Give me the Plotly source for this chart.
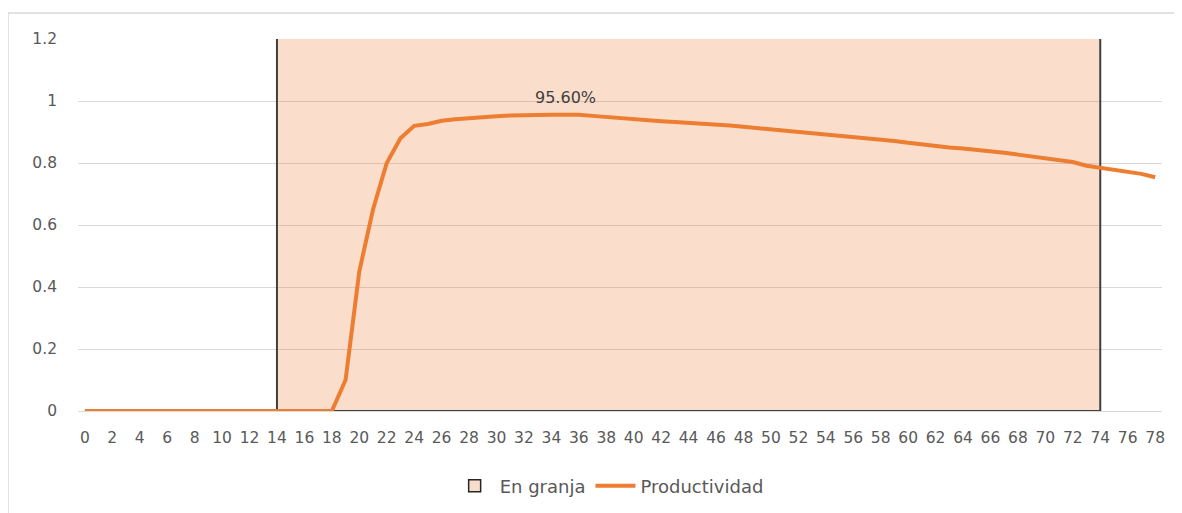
import plotly.graph_objects as go

# ---- data ----
semanas = list(range(0, 79))
productividad = [
    0, 0, 0, 0, 0, 0, 0, 0, 0, 0,
    0, 0, 0, 0, 0, 0, 0, 0, 0, 0.10,
    0.45, 0.65, 0.80, 0.88, 0.92, 0.926, 0.936, 0.941, 0.945, 0.948,
    0.951, 0.953, 0.955, 0.956, 0.956, 0.956, 0.956, 0.952, 0.948, 0.945,
    0.941, 0.937, 0.935, 0.932, 0.930, 0.927, 0.925, 0.921, 0.917, 0.913,
    0.909, 0.905, 0.901, 0.898, 0.894, 0.889, 0.885, 0.881, 0.876, 0.871,
    0.865, 0.859, 0.853, 0.850, 0.847, 0.843, 0.838, 0.833, 0.827, 0.821,
    0.815, 0.809, 0.803, 0.791, 0.785, 0.779, 0.773, 0.765, 0.754,
]
granja_inicio = 14
granja_fin = 74
granja_alto = 1.2
pico_semana = 35
pico_valor = 0.956
pico_texto = "95.60%"
x_ticks = list(range(0, 79, 2))
y_ticks = [0, 0.2, 0.4, 0.6, 0.8, 1, 1.2]
y_tick_labels = ["0", "0.2", "0.4", "0.6", "0.8", "1", "1.2"]

FONT = "DejaVu Sans"
TXT = "#595959"

fig = go.Figure()

# shaded "En granja" region (left, bottom, right edges stroked)
fig.add_trace(go.Scatter(
    x=[granja_inicio, granja_inicio, granja_fin, granja_fin],
    y=[granja_alto, 0, 0, granja_alto],
    mode="lines",
    fill="toself",
    fillcolor="rgba(237,125,49,0.25)",
    line=dict(color="#404040", width=2),
    name="En granja",
    showlegend=False,
    hoverinfo="skip",
))

# legend entry for the shaded region (box with dark border)
fig.add_trace(go.Bar(
    x=[None], y=[None],
    name="En granja",
    marker=dict(color="#F9DCCB", line=dict(color="#262626", width=1.5)),
    showlegend=True,
))

fig.add_trace(go.Scatter(
    x=semanas,
    y=productividad,
    mode="lines",
    line=dict(color="#ED7D31", width=4),
    name="Productividad",
))

fig.add_annotation(
    x=pico_semana, y=pico_valor, text=pico_texto,
    showarrow=False, yanchor="bottom", yshift=6,
    font=dict(family=FONT, size=16, color="#404040"),
)

# chart frame: only left and top edges are visible in the reference
fig.add_shape(
    type="line", xref="paper", yref="paper",
    x0=-0.0646, x1=-0.0646, y0=-0.4, y1=1.0699,
    line=dict(color="#D9D9D9", width=1.5), layer="below",
)
fig.add_shape(
    type="line", xref="paper", yref="paper",
    x0=-0.0646, x1=1.1, y0=1.0699, y1=1.0699,
    line=dict(color="#D9D9D9", width=1.5), layer="below",
)

fig.update_layout(
    width=1182, height=513,
    margin=dict(l=70, r=28, t=31, b=110),
    paper_bgcolor="white",
    plot_bgcolor="white",
    font=dict(family=FONT, size=15, color=TXT),
    showlegend=True,
    legend=dict(
        orientation="h", x=0.49, xanchor="center", y=-0.2016, yanchor="middle",
        font=dict(family=FONT, size=18, color=TXT),
        traceorder="normal", itemwidth=40,
    ),
    xaxis=dict(
        range=[-0.5, 78.5],
        tickmode="array", tickvals=x_ticks, ticktext=[str(t) for t in x_ticks],
        tickangle=0,
        showgrid=False, zeroline=False,
        showline=True, linecolor="#D9D9D9", linewidth=1,
        ticks="", tickfont=dict(family=FONT, size=15.5, color=TXT),
        ticklabelstandoff=12,
    ),
    yaxis=dict(
        range=[0, 1.2],
        tickmode="array", tickvals=y_ticks, ticktext=y_tick_labels,
        showgrid=True, gridcolor="#D9D9D9", gridwidth=1,
        zeroline=False, showline=False, ticks="",
        tickfont=dict(family=FONT, size=15.5, color=TXT),
        ticklabelstandoff=20,
    ),
)

fig.write_html("out.html")
